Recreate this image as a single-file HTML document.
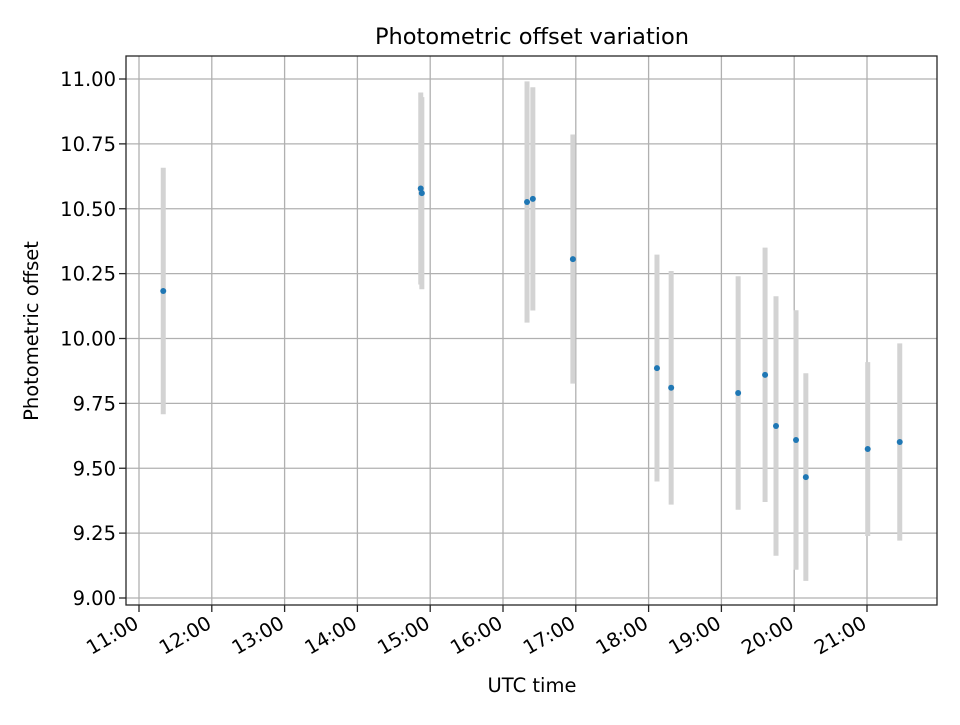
<!DOCTYPE html>
<html><head><meta charset="utf-8"><style>
html,body{margin:0;padding:0;background:#fff;}
svg text{font-family:"DejaVu Sans","Liberation Sans",sans-serif;fill:#000;}
</style></head><body>
<svg id="chart" width="960" height="720" viewBox="0 0 960 720" xmlns="http://www.w3.org/2000/svg">
<rect x="0" y="0" width="960" height="720" fill="#fff"/>
<g id="grid"></g>
<g id="bars"></g>
<g id="pts"></g>
<rect x="126" y="56" width="811" height="549" fill="none" stroke="#262626" stroke-width="1.3"/>
<g id="axes"></g>
<text x="532" y="44" font-size="22.5" text-anchor="middle">Photometric offset variation</text>
<text x="532" y="692" font-size="19.5" text-anchor="middle">UTC time</text>
<text x="38" y="331" font-size="19.5" text-anchor="middle" transform="rotate(-90 38 331)">Photometric offset</text>
</svg>
<script>
// hours since 11:00 UTC
const times = [0.333,3.87,3.885,5.33,5.41,5.96,7.115,7.31,8.23,8.6,8.75,9.025,9.16,10.01,10.45];
const offsets = [10.183,10.578,10.56,10.526,10.538,10.306,9.886,9.81,9.79,9.86,9.663,9.609,9.466,9.574,9.601];
const errors = [0.475,0.37,0.37,0.465,0.43,0.48,0.437,0.45,0.45,0.49,0.50,0.50,0.40,0.335,0.38];
const yTicks = [9.00,9.25,9.50,9.75,10.00,10.25,10.50,10.75,11.00];
const xTickLabels = ["11:00","12:00","13:00","14:00","15:00","16:00","17:00","18:00","19:00","20:00","21:00"];

const NS="http://www.w3.org/2000/svg";
const L=126,R=937,T=56,B=605;
function xs(h){return 139 + h*72.8;}
function ys(v){return 79 + (11 - v)*259.5;}
function mk(tag,attrs,parent){const e=document.createElementNS(NS,tag);for(const k in attrs)e.setAttribute(k,attrs[k]);parent.appendChild(e);return e;}
const grid=document.getElementById('grid'),axes=document.getElementById('axes'),bars=document.getElementById('bars'),pts=document.getElementById('pts');

yTicks.forEach(v=>{
  const y=ys(v);
  const g=mk('line',{x1:L,x2:R,y1:y,y2:y,stroke:'#b0b0b0','stroke-width':1.3},grid);
  
  
  const t=mk('line',{x1:L-7,x2:L,y1:y,y2:y,stroke:'#262626','stroke-width':1.3},axes);
  
  
  const tx=mk('text',{x:L-10,y:y+7,'font-size':19.5,'text-anchor':'end'},axes);
  tx.textContent=v.toFixed(2);
  
  
});
xTickLabels.forEach((lab,i)=>{
  const x=xs(i);
  const g=mk('line',{x1:x,x2:x,y1:T,y2:B,stroke:'#b0b0b0','stroke-width':1.3},grid);
  
  
  const t=mk('line',{x1:x,x2:x,y1:B,y2:B+7,stroke:'#262626','stroke-width':1.3},axes);
  
  
  const ax=x+1, ay=B+22;
  const tx=mk('text',{x:ax,y:ay,'font-size':19.5,'text-anchor':'end',transform:`rotate(-30 ${ax} ${ay})`},axes);
  tx.textContent=lab;
  
  
});
times.forEach((h,i)=>{
  const x=xs(h);
  const b=mk('line',{x1:x,x2:x,y1:ys(offsets[i]+errors[i]),y2:ys(offsets[i]-errors[i]),stroke:'#d3d3d3','stroke-width':5},bars);
  
  
  const c=mk('circle',{cx:x,cy:ys(offsets[i]),r:3,fill:'#1f77b4'},pts);
  
  
});
</script>
</body></html>
